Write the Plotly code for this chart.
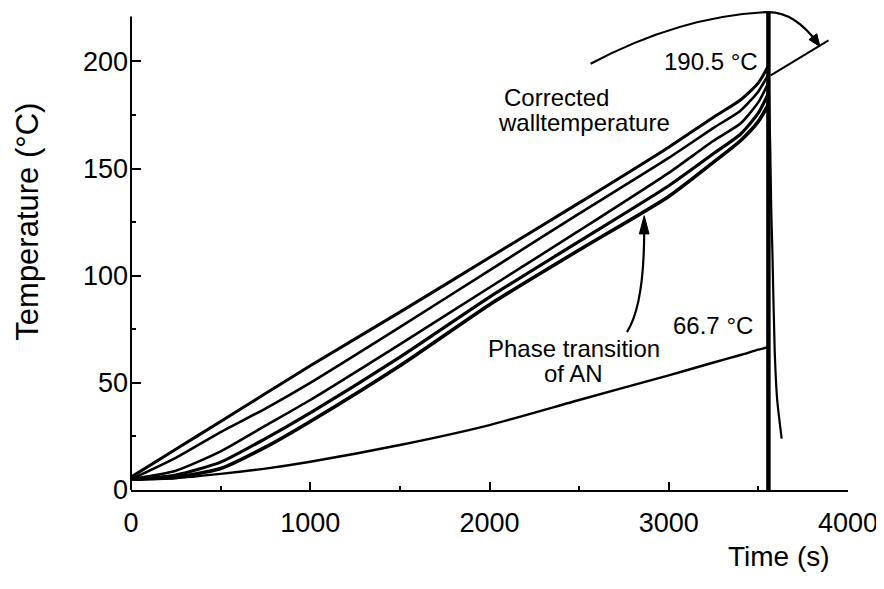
import plotly.graph_objects as go

# ---- data ----
time_s = [0, 250, 500, 750, 1000, 1500, 2000, 2500, 3000, 3250, 3400, 3500, 3556]
wall_corrected = [6, 19, 32, 45, 58, 83, 108.5, 134, 160, 174, 182, 190, 198]
temp_b = [5, 15, 27, 38, 50, 76, 102.5, 129, 155, 169, 177, 186, 194]
temp_c = [5, 9, 18, 30, 42, 68, 94.5, 121, 148, 163, 171, 181, 190]
temp_d = [5, 7, 13, 24, 36, 62, 90, 116, 142, 157, 166, 176, 185]
temp_e = [5, 6, 10, 20, 32, 58, 86.5, 112, 137, 153, 163, 172, 180]
temp_low = [5, 5.5, 7.5, 10, 13.2, 21, 30.3, 42, 53.5, 59.5, 63, 65.5, 66.7]

event_t = [3556, 3556]
event_T = [0, 223]

cool_t = [3558, 3566, 3572, 3578, 3591, 3605, 3630]
cool_T = [190, 160, 130, 112, 65, 42, 24]

x_ticks = [0, 1000, 2000, 3000, 4000]
y_ticks = [0, 50, 100, 150, 200]

FONT = "Liberation Sans, Arial, Helvetica, sans-serif"
BLACK = "black"

fig = go.Figure()

def add_curve(x, y, w, shape="spline"):
    fig.add_trace(go.Scatter(x=x, y=y, mode="lines",
                             line=dict(color=BLACK, width=w, shape=shape, smoothing=0.6),
                             showlegend=False, hoverinfo="skip"))

add_curve(time_s, wall_corrected, 3)
add_curve(time_s, temp_b, 2.6)
add_curve(time_s, temp_c, 2.6)
add_curve(time_s, temp_d, 3.2)
add_curve(time_s, temp_e, 3.6)
add_curve(time_s, temp_low, 2.4)
add_curve(event_t, event_T, 4.5, shape="linear")
add_curve(cool_t, cool_T, 2.2)

# ---- annotation drawings ----
shapes = []
# y axis line
shapes.append(dict(type="line", xref="x domain", yref="y", x0=0, x1=0, y0=0, y1=221,
                   line=dict(color=BLACK, width=2)))
# curved arrow for phase transition
shapes.append(dict(type="path", xref="x", yref="y",
                   path="M 2767,73.7 C 2830,82 2863,96 2863,121",
                   line=dict(color=BLACK, width=2.2)))
shapes.append(dict(type="path", xref="x", yref="y",
                   path="M 2863,128 L 2836,119.5 L 2890,119.5 Z",
                   fillcolor=BLACK, line=dict(color=BLACK, width=1)))
# big arc at top
shapes.append(dict(type="path", xref="x domain", yref="y",
                   path="M 0.641,198.9 Q 0.7658,221.1 0.8862,223 Q 0.925,223.6 0.9585,208.2",
                   line=dict(color=BLACK, width=2.2)))
shapes.append(dict(type="path", xref="x domain", yref="y",
                   path="M 0.9608,207 L 0.9565,212.9 L 0.9455,210.2 Z",
                   fillcolor=BLACK, line=dict(color=BLACK, width=1)))
# straight pointer line
shapes.append(dict(type="line", xref="x domain", yref="y",
                   x0=0.8922, y0=193.5, x1=0.9728, y1=209.8,
                   line=dict(color=BLACK, width=2)))

annotations = [
    dict(x=3507, y=200, xref="x", yref="y", text="190.5 °C", showarrow=False,
         xanchor="right", yanchor="middle", font=dict(size=24, color=BLACK, family=FONT)),
    dict(x=2067, y=183.2, xref="x", yref="y", text="Corrected", showarrow=False,
         xanchor="left", yanchor="middle", font=dict(size=24, color=BLACK, family=FONT)),
    dict(x=2034, y=171.6, xref="x", yref="y", text="walltemperature", showarrow=False,
         xanchor="left", yanchor="middle", font=dict(size=24, color=BLACK, family=FONT)),
    dict(x=3479, y=76.9, xref="x", yref="y", text="66.7 °C", showarrow=False,
         xanchor="right", yanchor="middle", font=dict(size=24, color=BLACK, family=FONT)),
    dict(x=2471, y=66.2, xref="x", yref="y", text="Phase transition", showarrow=False,
         xanchor="center", yanchor="middle", font=dict(size=24, color=BLACK, family=FONT)),
    dict(x=2471, y=54.5, xref="x", yref="y", text="of AN", showarrow=False,
         xanchor="center", yanchor="middle", font=dict(size=24, color=BLACK, family=FONT)),
    dict(x=0, y=0.559, xref="paper", yref="paper", xshift=-103, text="Temperature (°C)",
         textangle=-90, showarrow=False, xanchor="center", yanchor="middle",
         font=dict(size=31, color=BLACK, family=FONT)),
    dict(x=0.9038, y=-0.1375, xref="paper", yref="paper", text="Time (s)",
         showarrow=False, xanchor="center", yanchor="middle",
         font=dict(size=28, color=BLACK, family=FONT)),
]

fig.update_layout(
    width=884, height=589,
    margin=dict(l=123, r=44, t=2, b=107),
    paper_bgcolor="white", plot_bgcolor="white",
    font=dict(family=FONT, color=BLACK),
    shapes=shapes, annotations=annotations,
    showlegend=False,
)
fig.update_xaxes(range=[0, 4000], tickvals=x_ticks, ticktext=[str(v) for v in x_ticks],
                 showgrid=False, zeroline=False, showline=True, linecolor=BLACK, linewidth=2,
                 ticks="inside", ticklen=8, tickwidth=2, tickcolor=BLACK,
                 tickfont=dict(size=27, color=BLACK, family=FONT), ticklabelstandoff=8,
                 automargin=False,
                 minor=dict(ticks="inside", ticklen=4, tickwidth=2, tickcolor=BLACK,
                            tickvals=[500, 1500, 2500, 3500], showgrid=False))
fig.update_yaxes(range=[0, 224], tickvals=y_ticks, ticktext=[str(v) for v in y_ticks],
                 showgrid=False, zeroline=False, showline=False,
                 ticks="inside", ticklen=10, tickwidth=2, tickcolor=BLACK,
                 tickfont=dict(size=27, color=BLACK, family=FONT), ticklabelstandoff=2,
                 automargin=False,
                 minor=dict(ticks="inside", ticklen=5, tickwidth=2, tickcolor=BLACK,
                            tickvals=[25, 75, 125, 175], showgrid=False))

fig.write_html("out.html")
